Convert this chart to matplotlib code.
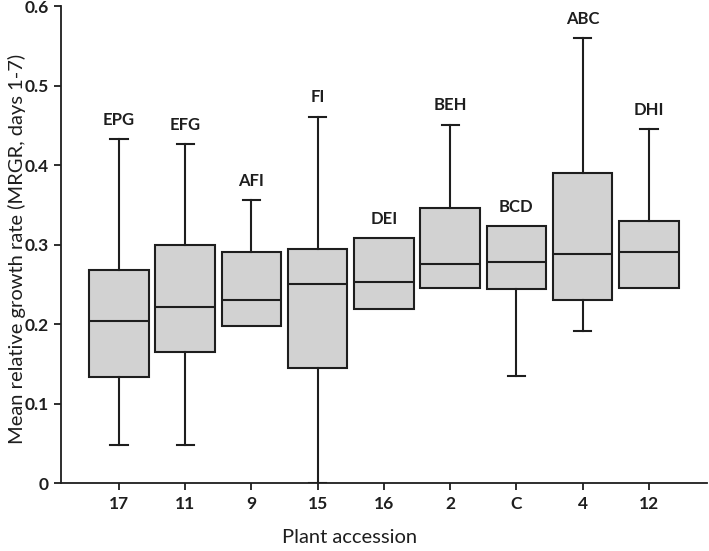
import matplotlib
matplotlib.use('Agg')
import matplotlib.pyplot as plt

# Plant accessions and box statistics
accessions = ['17', '11', '9', '15', '16', '2', 'C', '4', '12']
whisker_low = [0.048, 0.048, 0.198, 0.0, 0.219, 0.245, 0.135, 0.192, 0.245]
q1 = [0.134, 0.165, 0.198, 0.145, 0.219, 0.245, 0.244, 0.231, 0.245]
median = [0.204, 0.222, 0.231, 0.250, 0.253, 0.276, 0.278, 0.288, 0.291]
q3 = [0.268, 0.299, 0.291, 0.295, 0.308, 0.346, 0.323, 0.390, 0.330]
whisker_high = [0.433, 0.427, 0.356, 0.461, 0.308, 0.451, 0.323, 0.560, 0.445]
groups = ['EPG', 'EFG', 'AFI', 'FI', 'DEI', 'BEH', 'BCD', 'ABC', 'DHI']

plt.rcParams['font.family'] = ['Lato', 'DejaVu Sans']

fig = plt.figure(figsize=(7.09, 5.51), dpi=100)
ax = fig.add_axes([0.086, 0.123, 0.911, 0.866])

stats = []
for i, name in enumerate(accessions):
    stats.append(dict(label=name, whislo=whisker_low[i], q1=q1[i], med=median[i],
                      q3=q3[i], whishi=whisker_high[i], fliers=[]))

pos = list(range(1, len(accessions) + 1))
edge = '#1e1e1e'
res = ax.bxp(stats, positions=pos, widths=0.9, capwidths=0.26, patch_artist=True,
             showfliers=False,
             boxprops=dict(facecolor='#d2d2d2', edgecolor=edge, linewidth=1.5),
             medianprops=dict(color=edge, linewidth=1.5),
             whiskerprops=dict(color=edge, linewidth=1.5),
             capprops=dict(color=edge, linewidth=1.5))

# hide caps where there is no whisker
for i in range(len(accessions)):
    if whisker_low[i] == q1[i]:
        res['caps'][2 * i].set_visible(False)
    if whisker_high[i] == q3[i]:
        res['caps'][2 * i + 1].set_visible(False)

for i, g in enumerate(groups):
    ax.annotate(g, (pos[i], whisker_high[i]), xytext=(0, 8), textcoords='offset points',
                ha='center', va='bottom', fontsize=12, fontweight='bold', color='#1e1e1e')

ax.set_xlim(0.125, 9.875)
ax.set_ylim(0, 0.6)
ax.set_yticks([0, 0.1, 0.2, 0.3, 0.4, 0.5, 0.6])
ax.set_yticklabels(['0', '0.1', '0.2', '0.3', '0.4', '0.5', '0.6'])
ax.set_xticks(pos)
ax.set_xticklabels(accessions)
for lab in ax.get_xticklabels() + ax.get_yticklabels():
    lab.set_fontweight('bold')
    lab.set_fontsize(12.5)
    lab.set_color('#1e1e1e')
ax.tick_params(direction='out', length=5, width=1.3, color=edge, pad=4)

ax.spines['top'].set_visible(False)
ax.spines['right'].set_visible(False)
ax.spines['left'].set_linewidth(1.3)
ax.spines['bottom'].set_linewidth(1.3)
ax.spines['left'].set_color(edge)
ax.spines['bottom'].set_color(edge)

ax.set_xlabel('Plant accession', fontsize=14.5, color='#1e1e1e')
ax.set_ylabel('Mean relative growth rate (MRGR, days 1-7)', fontsize=14.5,
              color='#1e1e1e')
ax.xaxis.set_label_coords(0.447, -0.095)
ax.yaxis.set_label_coords(-0.054, 0.49)

fig.savefig('out.png', dpi=100)
